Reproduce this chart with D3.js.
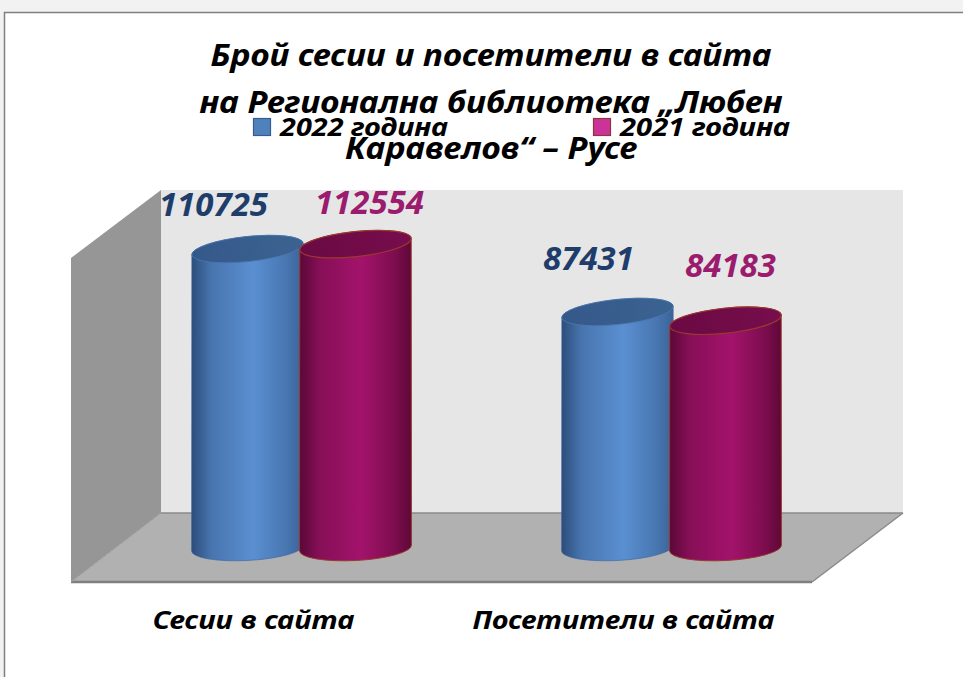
<!DOCTYPE html>
<html><head><meta charset="utf-8">
<script src="https://cdn.jsdelivr.net/npm/d3@7"></script>
<style>html,body{margin:0;padding:0;background:#f2f2f2;overflow:hidden}</style>
</head><body><svg id="c" width="963" height="677"></svg>
<script>
// ---- data ----
const categories = ["Сесии в сайта", "Посетители в сайта"];
const seriesNames = ["2022 година", "2021 година"];
const values2022 = [110725, 87431];
const values2021 = [112554, 84183];
const titleLines = ["Брой сесии и посетители в сайта", "на Регионална библиотека „Любен", "Каравелов“ – Русе"];

// ---- layout / style ----
const FONT = "'Noto Sans', 'Open Sans', sans-serif";
const svg = d3.select("#c");
const series = [
  {name: seriesNames[0], values: values2022, dark: "#2c4d7b", mid: "#5a8fd1", right: "#3a6297", top: "#3b6391", topDark:"#34588a", stroke: "#3d64a0", label: "#1f3d6b", legendFill: "#4f81bd", legendStroke: "#385d8a"},
  {name: seriesNames[1], values: values2021, dark: "#5a0838", mid: "#a3136b", right: "#5e0838", top: "#770d4d", topDark:"#6a0a43", stroke: "#9a3a2e", label: "#9b1b6e", legendFill: "#cc3399", legendStroke: "#8c3838"}
];
// label offsets (dx, dy) relative to top of cylinder, per category then series
const labelShift = [[[-34, -33], [14, -30]], [[-29, -42], [5, -44]]];

// chart frame
svg.append("rect").attr("x", 4.5).attr("y", 12.5).attr("width", 1000).attr("height", 700)
  .attr("fill", "#ffffff").attr("stroke", "#808080").attr("stroke-width", 1.5);

// scales
const x = d3.scaleBand().domain(categories).range([116.5, 856.5]);
const xs = d3.scaleBand().domain(seriesNames).range([-108, 108]);
const y = d3.scaleLinear().domain([0, 120000]).range([548, 224]);

// 3D walls
const wall = svg.append("g");
wall.append("polygon").attr("points", "161,190 903,190 903,513 161,513").attr("fill", "#e6e6e6");
wall.append("polygon").attr("points", "71,258 161,190 161,513 71,582").attr("fill", "#969696");
wall.append("polygon").attr("points", "161,513 903,513 812,582 71,582").attr("fill", "#b1b1b1");
wall.append("line").attr("x1",161).attr("y1",513).attr("x2",903).attr("y2",513).attr("stroke","#8a8a8a").attr("stroke-width",1.5);
wall.append("line").attr("x1",903).attr("y1",513).attr("x2",812).attr("y2",582).attr("stroke","#8a8a8a").attr("stroke-width",1.5);
wall.append("line").attr("x1",71).attr("y1",582).attr("x2",812).attr("y2",582).attr("stroke","#7f7f7f").attr("stroke-width",2.5);
wall.append("line").attr("x1",161).attr("y1",513).attr("x2",71).attr("y2",582).attr("stroke","#a0a0a0").attr("stroke-width",1);

// gradients
const defs = svg.append("defs");
series.forEach((s, i) => {
  const g = defs.append("linearGradient").attr("id", "body" + i).attr("x1", 0).attr("x2", 1).attr("y1", 0).attr("y2", 0);
  g.append("stop").attr("offset", 0).attr("stop-color", s.dark);
  g.append("stop").attr("offset", 0.18).attr("stop-color", d3.interpolateRgb(s.dark, s.mid)(0.6));
  g.append("stop").attr("offset", 0.55).attr("stop-color", s.mid);
  g.append("stop").attr("offset", 0.85).attr("stop-color", d3.interpolateRgb(s.mid, s.right)(0.55));
  g.append("stop").attr("offset", 1).attr("stop-color", s.right);
  const t = defs.append("linearGradient").attr("id", "top" + i).attr("x1", 0).attr("x2", 1).attr("y1", 0).attr("y2", 0);
  t.append("stop").attr("offset", 0).attr("stop-color", s.topDark);
  t.append("stop").attr("offset", 1).attr("stop-color", s.top);
});

const RX = 56, RY = 12.5;
const thTop = -6 * Math.PI / 180, thBot = -3 * Math.PI / 180;
function pt(cx, cy, t, th) {
  return [cx + RX * Math.cos(t) * Math.cos(th) - RY * Math.sin(t) * Math.sin(th),
          cy + RX * Math.cos(t) * Math.sin(th) + RY * Math.sin(t) * Math.cos(th)];
}
function bodyPath(cx, topY, botY) {
  const lt = pt(cx, topY, Math.PI, thTop), rt = pt(cx, topY, 0, thTop);
  const lb = pt(cx, botY, Math.PI, thBot), rb = pt(cx, botY, 0, thBot);
  const dT = thTop * 180 / Math.PI, dB = thBot * 180 / Math.PI;
  return `M${lt}L${lb}A${RX},${RY} ${dB} 0 0 ${rb}L${rt}A${RX},${RY} ${dT} 0 0 ${lt}Z`;
}

const bars = svg.append("g");
categories.forEach((c, ci) => {
  series.forEach((s, si) => {
    const cx = x(c) + x.bandwidth() / 2 + xs(s.name) + xs.bandwidth() / 2;
    const topY = y(s.values[ci]), botY = y(0);
    const g = bars.append("g");
    g.append("path").attr("d", bodyPath(cx, topY, botY)).attr("fill", `url(#body${si})`)
      .attr("stroke", s.stroke).attr("stroke-width", si === 1 ? 1 : 0.6);
    g.append("ellipse").attr("cx", cx).attr("cy", topY).attr("rx", RX).attr("ry", RY)
      .attr("transform", `rotate(${thTop * 180 / Math.PI} ${cx} ${topY})`)
      .attr("fill", `url(#top${si})`).attr("stroke", si === 1 ? s.stroke : "#4a76ad").attr("stroke-width", si === 1 ? 1.2 : 0.8);
  });
});

function styled(sel, size) {
  return sel.attr("font-family", FONT).attr("font-weight", 700).attr("font-style", "italic").attr("font-size", size);
}

// data labels
categories.forEach((c, ci) => {
  series.forEach((s, si) => {
    const cx = x(c) + x.bandwidth() / 2 + xs(s.name) + xs.bandwidth() / 2;
    const sh = labelShift[ci][si];
    styled(svg.append("text"), 33).attr("x", cx + sh[0]).attr("y", y(s.values[ci]) + sh[1])
      .attr("text-anchor", "middle").attr("fill", s.label)
      .text(d3.format("d")(s.values[ci]));
  });
});

// category labels
const catWidth = [202, 302];
categories.forEach((c, ci) => {
  styled(svg.append("text"), 25).attr("x", x(c) + x.bandwidth() / 2 - 48).attr("y", 629)
    .attr("text-anchor", "middle").attr("fill", "#000")
    .attr("textLength", catWidth[ci]).attr("lengthAdjust", "spacingAndGlyphs")
    .text(c);
});

// title
const titleY = [66, 113, 159];
const titleW = [561, 583, 292];
titleLines.forEach((t, i) => {
  styled(svg.append("text"), 31).attr("x", 491).attr("y", titleY[i]).attr("text-anchor", "middle")
    .attr("fill", "#000").attr("textLength", titleW[i]).attr("lengthAdjust", "spacingAndGlyphs").text(t);
});

// legend
const legX = [253, 593];
const legW = [168, 170];
series.forEach((s, i) => {
  svg.append("rect").attr("x", legX[i] + 0.5).attr("y", 118.5).attr("width", 17).attr("height", 17)
    .attr("fill", s.legendFill).attr("stroke", s.legendStroke).attr("stroke-width", 1.2);
  styled(svg.append("text"), 25).attr("x", legX[i] + 27).attr("y", 136).attr("fill", "#000")
    .attr("textLength", legW[i]).attr("lengthAdjust", "spacingAndGlyphs")
    .text(s.name);
});
</script></body></html>
